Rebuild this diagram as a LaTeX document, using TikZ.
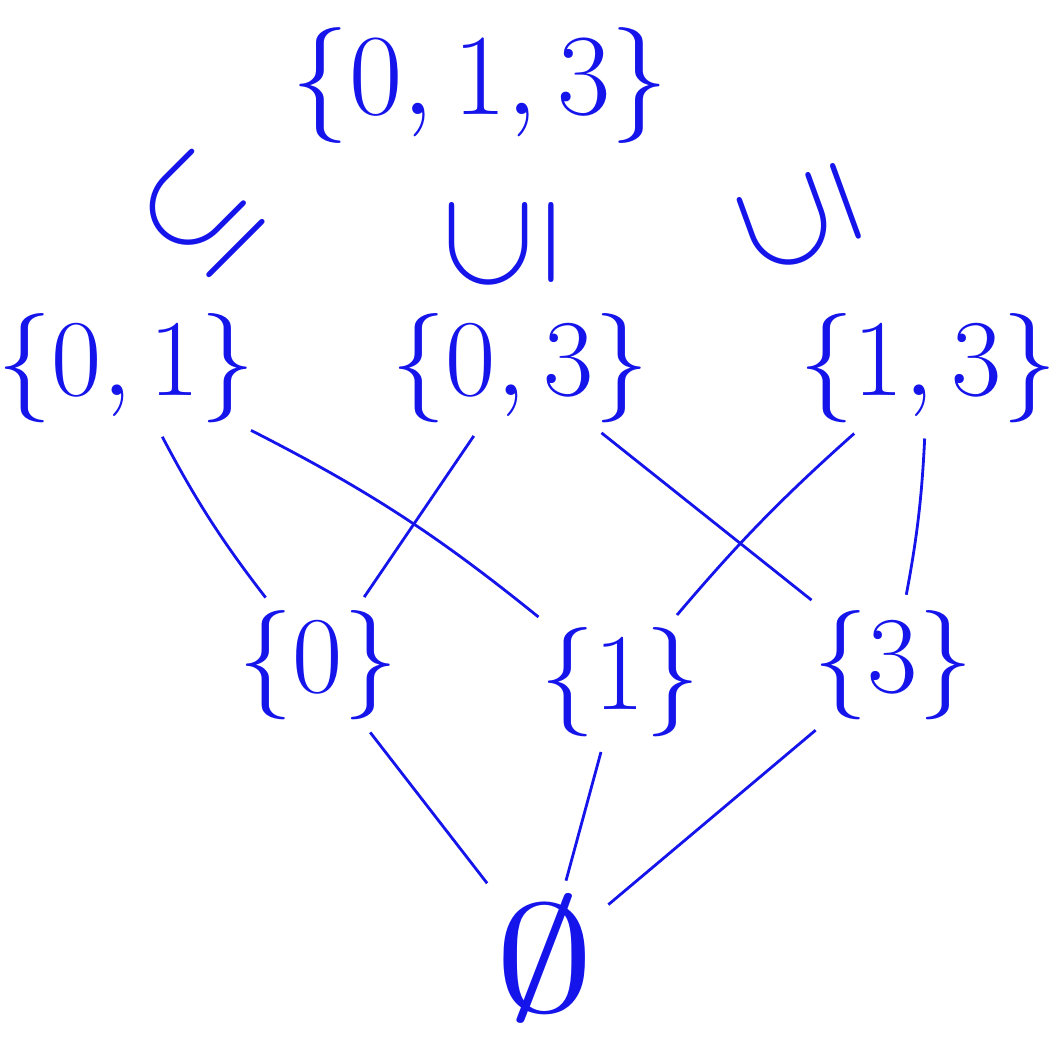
\documentclass[tikz,border=0pt]{standalone}
\usepackage{amsmath,amssymb}
\usepackage{xcolor}
\usetikzlibrary{positioning}
\definecolor{penblue}{RGB}{20,20,235}
\tikzstyle{setnode} = [text=penblue, font=\Huge, scale=1.25, inner sep=0pt]
\tikzstyle{subsetsym} = [text=penblue, font=\Huge, scale=1.55, inner sep=0pt]
\tikzstyle{edge} = [draw=penblue, line width=0.8pt, shorten <=0.15cm, shorten >=0.15cm]

\begin{document}
\begin{tikzpicture}
    \useasboundingbox (0,0) rectangle (10.56,10.56);
    % Define sets
    \node (top) [setnode, scale=1.06] at (4.80,9.70) {$\{0,1,3\}$};
    \node (s01) [setnode] at (1.26,6.88) {$\{0,1\}$};
    \node (s03) [setnode] at (5.20,6.88) {$\{0,3\}$};
    \node (s13) [setnode] at (9.28,6.88) {$\{1,3\}$};
    \node (s0) [setnode] at (3.18,3.91) {$\{0\}$};
    \node (s1) [setnode] at (6.20,3.74) {$\{1\}$};
    \node (s3) [setnode] at (8.93,3.91) {$\{3\}$};
    \node (empty) [text=penblue, font=\Huge, xscale=2.3, yscale=1.75, inner sep=0pt] at (5.45,0.98) {$\emptyset$};

    % Subset signs
    \node (sub01) [subsetsym, rotate=45] at (2.00,8.42) {$\subseteq$};
    \node (sub03) [subsetsym, rotate=90] at (5.02,8.12) {$\subseteq$};
    \node (sub13) [subsetsym, rotate=110] at (8.00,8.36) {$\subseteq$};

    % Draw edges
    \draw [edge] (s01) to[bend right=5] (s0);
    \draw [edge] (s01) to[bend left=6] (s1);
    \draw [edge] (s03) to (s0);
    \draw [edge] (s03) to (s3);
    \draw [edge] (s13) to[bend right=4] (s1);
    \draw [edge] (s13) to[bend left=4] (s3);
    \draw [edge] (s0) to (empty);
    \draw [edge] (s1) to (empty);
    \draw [edge] (s3) to (empty);
\end{tikzpicture}
\end{document}
